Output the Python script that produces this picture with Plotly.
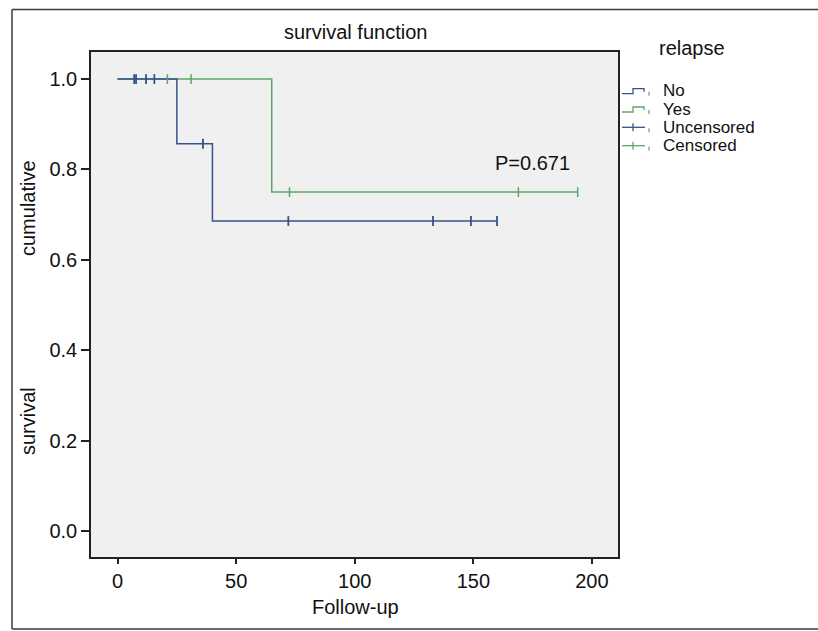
import plotly.graph_objects as go

# ---- data ----
no_step_t = [0, 25, 40, 160]
no_step_s = [1.0, 0.857, 0.686, 0.686]
no_cens_t = [7, 7.8, 12, 15.5, 36, 72, 133, 149, 160]
no_cens_s = [1.0, 1.0, 1.0, 1.0, 0.857, 0.686, 0.686, 0.686, 0.686]

yes_step_t = [0, 65, 194]
yes_step_s = [1.0, 0.75, 0.75]
yes_cens_t = [21, 31, 72.5, 169, 194]
yes_cens_s = [1.0, 1.0, 0.75, 0.75, 0.75]

x_ticks = [0, 50, 100, 150, 200]
y_ticks = [0.0, 0.2, 0.4, 0.6, 0.8, 1.0]
legend_labels = ["No", "Yes", "Uncensored", "Censored"]
p_text = "P=0.671"

BLUE = "#34528f"
GREEN = "#58a86a"
FONT = "Liberation Sans, Arial, sans-serif"

W, H = 818, 631
L, R, T, B = 91, 618, 52, 557


def px(xp):
    return (xp - L) / (R - L)


def py(yp):
    return (B - yp) / (B - T)


fig = go.Figure()

fig.add_trace(go.Scatter(x=yes_step_t, y=yes_step_s, mode="lines", line_shape="hv",
                         line=dict(color=GREEN, width=1.5), showlegend=False, hoverinfo="skip"))
fig.add_trace(go.Scatter(x=no_step_t, y=no_step_s, mode="lines", line_shape="hv",
                         line=dict(color=BLUE, width=1.5), showlegend=False, hoverinfo="skip"))
fig.add_trace(go.Scatter(x=yes_cens_t, y=yes_cens_s, mode="markers",
                         marker=dict(symbol="line-ns", size=7, line=dict(color=GREEN, width=1.5)),
                         showlegend=False, hoverinfo="skip"))
fig.add_trace(go.Scatter(x=no_cens_t, y=no_cens_s, mode="markers",
                         marker=dict(symbol="line-ns", size=7, line=dict(color=BLUE, width=1.8)),
                         showlegend=False, hoverinfo="skip"))

shapes = []
# outer frame (top, left, bottom; right edge lies outside the picture)
frame = dict(color="#3a3a3a", width=1.5)
shapes.append(dict(type="line", xref="paper", yref="paper",
                   x0=px(12), x1=px(860), y0=py(9.5), y1=py(9.5), line=frame))
shapes.append(dict(type="line", xref="paper", yref="paper",
                   x0=px(12), x1=px(12), y0=py(9.5), y1=py(629), line=frame))
shapes.append(dict(type="line", xref="paper", yref="paper",
                   x0=px(12), x1=px(860), y0=py(629), y1=py(629), line=frame))

annotations = []
annotations.append(dict(text="survival function", xref="paper", yref="paper",
                        x=px(355), y=py(32), xanchor="center", yanchor="middle",
                        showarrow=False, font=dict(family=FONT, size=20, color="#111")))
annotations.append(dict(text="Follow-up", xref="paper", yref="paper",
                        x=px(355), y=py(607), xanchor="center", yanchor="middle",
                        showarrow=False, font=dict(family=FONT, size=20, color="#111")))
annotations.append(dict(text="cumulative", xref="paper", yref="paper",
                        x=px(28), y=py(208), xanchor="center", yanchor="middle", textangle=-90,
                        showarrow=False, font=dict(family=FONT, size=20, color="#111")))
annotations.append(dict(text="survival", xref="paper", yref="paper",
                        x=px(28), y=py(421), xanchor="center", yanchor="middle", textangle=-90,
                        showarrow=False, font=dict(family=FONT, size=20, color="#111")))
annotations.append(dict(text=p_text, xref="x", yref="y",
                        x=158.3, y=0.815, xanchor="left", yanchor="middle",
                        showarrow=False, font=dict(family=FONT, size=20, color="#111")))
annotations.append(dict(text="relapse", xref="paper", yref="paper",
                        x=px(657), y=py(48), xanchor="left", yanchor="middle",
                        showarrow=False, font=dict(family=FONT, size=20, color="#111")))

# custom legend
rows = [90.7, 109, 127.3, 145.7]
colors = [BLUE, GREEN, BLUE, GREEN]
for i, (lab, yc, col) in enumerate(zip(legend_labels, rows, colors)):
    annotations.append(dict(text=lab, xref="paper", yref="paper",
                            x=px(662), y=py(yc), xanchor="left", yanchor="middle",
                            showarrow=False, borderpad=0,
                            font=dict(family=FONT, size=17, color="#111")))
    if i < 2:
        pts = [(622, yc + 3), (633, yc + 3), (633, yc - 2), (644, yc - 2), (644, yc + 1)]
    else:
        pts = [(622, yc), (645, yc)]
        shapes.append(dict(type="line", xref="paper", yref="paper",
                           x0=px(633), x1=px(633), y0=py(yc - 4), y1=py(yc + 4),
                           line=dict(color=col, width=1.3)))
    path = "M " + " L ".join(f"{px(a):.5f},{py(b):.5f}" for a, b in pts)
    shapes.append(dict(type="path", xref="paper", yref="paper", path=path,
                       line=dict(color=col, width=1.3)))
    shapes.append(dict(type="line", xref="paper", yref="paper",
                       x0=px(649), x1=px(649), y0=py(yc + 1), y1=py(yc + 5),
                       line=dict(color="#777", width=1)))

fig.update_layout(
    width=W, height=H,
    margin=dict(l=L, r=W - R, t=T, b=H - B),
    paper_bgcolor="white",
    plot_bgcolor="#f0f0f0",
    showlegend=False,
    shapes=shapes,
    annotations=annotations,
    font=dict(family=FONT, size=20, color="#111"),
)
fig.update_xaxes(range=[-11.2, 211], tickvals=x_ticks, ticktext=[str(v) for v in x_ticks],
                 showgrid=False, zeroline=False, showline=True, mirror=True,
                 linecolor="#222", linewidth=1.5, ticks="outside", ticklen=5,
                 tickwidth=1.5, tickcolor="#222", tickfont=dict(family=FONT, size=20, color="#111"))
fig.update_yaxes(range=[-0.0575, 1.06], tickvals=y_ticks, ticktext=[f"{v:.1f}" for v in y_ticks],
                 showgrid=False, zeroline=False, showline=True, mirror=True,
                 linecolor="#222", linewidth=1.5, ticks="outside", ticklen=8,
                 tickwidth=1.5, tickcolor="#222", tickfont=dict(family=FONT, size=20, color="#111"))

fig.write_html("out.html", config={"displayModeBar": False},
               post_script="document.body.style.margin='0';document.body.style.overflow='hidden';")
